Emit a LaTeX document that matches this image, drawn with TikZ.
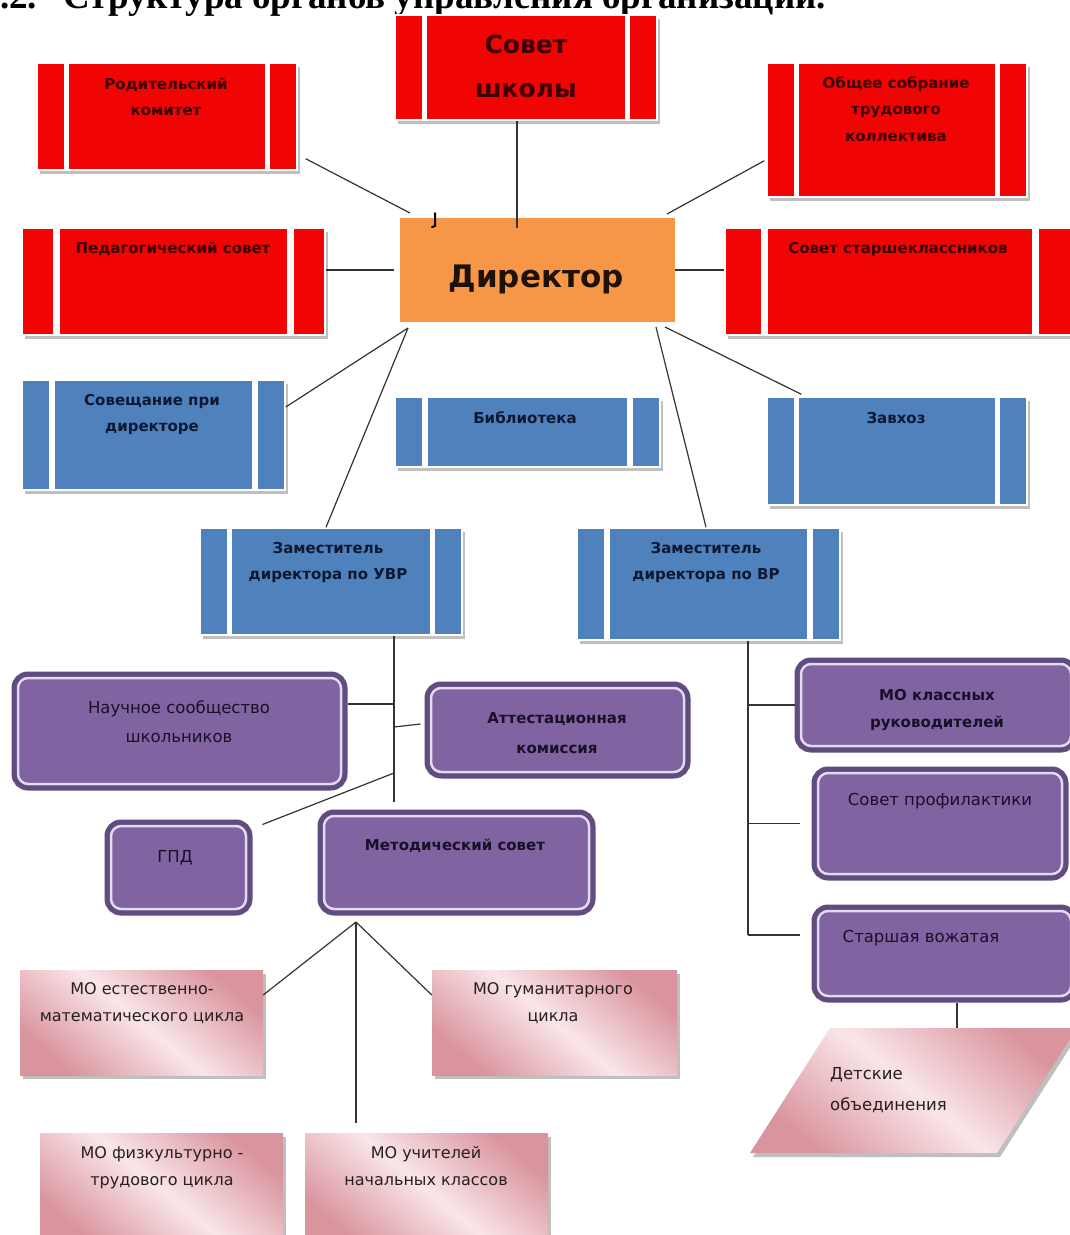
\documentclass[tikz,border=0pt]{standalone}
\usepackage{fontspec}
\setmainfont{DejaVu Sans}
\newfontfamily\tms{Liberation Serif}
\usetikzlibrary{calc,shadows}
\definecolor{redF}{RGB}{240,4,4}
\definecolor{redT}{RGB}{60,0,0}
\definecolor{orF}{RGB}{247,150,70}
\definecolor{orT}{RGB}{30,18,8}
\definecolor{blueF}{RGB}{79,129,189}
\definecolor{blueT}{RGB}{14,24,50}
\definecolor{purF}{RGB}{128,100,162}
\definecolor{purD}{RGB}{96,76,126}
\definecolor{purL}{RGB}{228,218,242}
\definecolor{purT}{RGB}{25,15,40}
\definecolor{pinkD}{RGB}{218,148,158}
\definecolor{pinkL}{RGB}{249,230,233}
\definecolor{pinkT}{RGB}{40,30,30}
\tikzset{
  wh/.style 2 args={minimum width=#1pt, minimum height=#2pt},
  conn/.style={draw=black!80, line width=1.2pt},
  shad/.style={drop shadow={shadow xshift=3pt, shadow yshift=-4pt, fill=black!25, opacity=1}},
  stripes/.style={path picture={
    \fill[white] ($(path picture bounding box.south west)!0.103!(path picture bounding box.south east)$) rectangle ($(path picture bounding box.north west)!0.124!(path picture bounding box.north east)$);
    \fill[white] ($(path picture bounding box.south west)!0.876!(path picture bounding box.south east)$) rectangle ($(path picture bounding box.north west)!0.897!(path picture bounding box.north east)$);
  }},
  redbox/.style={rectangle, fill=redF, draw=white, line width=1.5pt, shad, stripes, inner sep=0},
  bluebox/.style={rectangle, fill=blueF, draw=white, line width=1.5pt, shad, stripes, inner sep=0},
  orbox/.style={rectangle, fill=orF, inner sep=0},
  purbox/.style={rectangle, rounded corners=14pt, fill=purF, draw=purD, line width=5pt, inner sep=0,
    path picture={\draw[purL, line width=2.5pt, rounded corners=10pt]
      ([shift={(4pt,4pt)}]path picture bounding box.south west) rectangle
      ([shift={(-4pt,-4pt)}]path picture bounding box.north east);}},
  pinkbox/.style={rectangle, top color=pinkD, bottom color=pinkD, middle color=pinkL, shading angle=-40, shad, inner sep=0},
  txt/.style={anchor=base, align=center, inner sep=0},
  redtxt/.style={txt, text=redT, font=\bfseries\fontsize{15}{26.5}\selectfont},
  bluetxt/.style={txt, text=blueT, font=\bfseries\fontsize{15}{26}\selectfont},
  purbtxt/.style={txt, text=purT, font=\bfseries\fontsize{15}{29}\selectfont},
  purtxt/.style={txt, text=purT, font=\fontsize{16.5}{29}\selectfont},
  pinktxt/.style={txt, text=pinkT, font=\fontsize{16}{27}\selectfont},
}
\begin{document}
\begin{tikzpicture}[x=1pt, y=-1pt]
\clip (0,0) rectangle (1070,1235);
\fill[white] (0,0) rectangle (1070,1235);

% title (cut off at the top)
\node[anchor=base west, inner sep=0, font=\tms\bfseries\fontsize{37}{40}\selectfont] (title) at (0,8) {.2.\hspace{26pt}Структура органов управления организации.};

% red boxes
\node[redbox, wh={262}{105}] (soviet) at (526,67.5) {};
\node[redbox, wh={260}{107}] (roditel) at (167,116.5) {};
\node[redbox, wh={260}{134}] (obshchee) at (897,130) {};
\node[redbox, wh={303}{107}] (pedsovet) at (173.5,281.5) {};
\node[redbox, wh={350}{107}] (starsh) at (900,281.5) {};
% director
\node[orbox, wh={275}{104}] (director) at (537.5,270) {};
% blue boxes
\node[bluebox, wh={263}{110}] (soveshch) at (153.5,435) {};
\node[bluebox, wh={265}{70}] (biblio) at (527.5,432) {};
\node[bluebox, wh={260}{108}] (zavkhoz) at (897,451) {};
\node[bluebox, wh={262}{107}] (zamuvr) at (331,581.5) {};
\node[bluebox, wh={263}{112}] (zamvr) at (708.5,584) {};
% purple boxes
\node[purbox, wh={331}{114}] (nauch) at (179.5,731) {};
\node[purbox, wh={261}{92}] (attest) at (557.5,730) {};
\node[purbox, wh={278}{90}] (moklass) at (936,705) {};
\node[purbox, wh={143}{91}] (gpd) at (178.5,867.5) {};
\node[purbox, wh={273}{101}] (metod) at (456.5,862.5) {};
\node[purbox, wh={252}{109}] (profil) at (940,823.5) {};
\node[purbox, wh={261}{93}] (vozh) at (944.5,953.5) {};
% pink boxes
\node[pinkbox, wh={243}{105}] (estmat) at (141.5,1022.5) {};
\node[pinkbox, wh={245}{105}] (guman) at (554.5,1022.5) {};
\node[pinkbox, wh={243}{112}] (fizk) at (161.5,1189) {};
\node[pinkbox, wh={243}{112}] (nachal) at (426.5,1189) {};
% parallelogram
\coordinate (p1) at (830,1028);
\coordinate (p2) at (1077,1028);
\coordinate (p3) at (997,1153);
\coordinate (p4) at (750,1153);
\shade[top color=pinkD, bottom color=pinkD, middle color=pinkL, shading angle=-40, shad] (p1) -- (p2) -- (p3) -- (p4) -- cycle;

% texts (anchor = baseline of the last line)
\node[txt, text=redT, font=\bfseries\fontsize{25}{44}\selectfont] (soviet-t) at (526,97) {Совет\\школы};
\node[txt, text=orT, font=\bfseries\fontsize{31}{34}\selectfont] (director-t) at (536,287) {Директор};
\node[redtxt] (roditel-t) at (166,115.5) {Родительский\\комитет};
\node[redtxt] (obshchee-t) at (896,141) {Общее собрание\\трудового\\коллектива};
\node[redtxt] (pedsovet-t) at (173,253) {Педагогический совет};
\node[redtxt] (starsh-t) at (898,253) {Совет старшеклассников};
\node[bluetxt] (soveshch-t) at (152,431) {Совещание при\\директоре};
\node[bluetxt] (biblio-t) at (525,423) {Библиотека};
\node[bluetxt] (zavkhoz-t) at (896,423) {Завхоз};
\node[bluetxt] (zamuvr-t) at (328,579) {Заместитель\\директора по УВР};
\node[bluetxt] (zamvr-t) at (706,579) {Заместитель\\директора по ВР};
\node[purtxt] (nauch-t) at (179,742) {Научное сообщество\\школьников};
\node[purbtxt, font=\bfseries\fontsize{15}{30}\selectfont] (attest-t) at (557,753) {Аттестационная\\комиссия};
\node[purbtxt, font=\bfseries\fontsize{15}{27}\selectfont] (moklass-t) at (937,727) {МО классных\\руководителей};
\node[purtxt] (gpd-t) at (175,862) {ГПД};
\node[purbtxt] (metod-t) at (455,850) {Методический совет};
\node[purtxt] (profil-t) at (940,805) {Совет профилактики};
\node[purtxt] (vozh-t) at (921,942) {Старшая вожатая};
\node[pinktxt] (estmat-t) at (142,1021) {МО естественно-\\математического цикла};
\node[pinktxt] (guman-t) at (553,1021) {МО гуманитарного\\цикла};
\node[pinktxt] (fizk-t) at (162,1185) {МО физкультурно -\\трудового цикла};
\node[pinktxt] (nachal-t) at (426,1185) {МО учителей\\начальных классов};
\node[pinktxt, anchor=base west, align=left, font=\fontsize{16.5}{31}\selectfont] (detskie-t) at (830,1110) {Детские\\объединения};

% junction coordinates
\coordinate (d-top) at (517,228);
\coordinate (d-nw) at (410,213);
\coordinate (d-ne) at (667,214);
\coordinate (d-sw) at (408,328);
\coordinate (d-se1) at (656,327);
\coordinate (d-se2) at (665,327);
\coordinate (u0) at (394,636);
\coordinate (u1) at (394,802);
\coordinate (un) at (394,704);
\coordinate (ua) at (394,727);
\coordinate (ug) at (394,773);
\coordinate (m0) at (356,922);
\coordinate (m1) at (356,1123);
\coordinate (v0) at (748,641);
\coordinate (v1) at (748,935);
\coordinate (vz) at (800,935);
\coordinate (dtop) at (957,1028);

% connectors
\draw[conn] ([xshift=-9pt]soviet.south) -- (d-top);
\draw[conn] ([xshift=8pt,yshift=12pt]roditel.south east) -- (d-nw);
\draw[conn] ([xshift=-2pt,yshift=37pt]obshchee.south west) -- (d-ne);
\draw[conn] (pedsovet.east |- director.west) -- ([xshift=-6pt]director.west);
\draw[conn] (director.east) -- (starsh.west |- director.east);
\draw[conn] ([yshift=28pt]soveshch.east) -- (d-sw);
\draw[conn] (d-sw) -- ([xshift=-5pt]zamuvr.north);
\draw[conn] (d-se1) -- ([xshift=-2.5pt]zamvr.north);
\draw[conn] (d-se2) -- ([xshift=35pt,yshift=2pt]zavkhoz.north west);
\draw[line width=2pt, line cap=round] (435,213) -- (435,226) -- (432,227);

\draw[conn] (u0) -- (u1);
\draw[conn] (nauch.east |- un) -- (un);
\draw[conn] (ua) -- ([xshift=-4pt,yshift=6pt]attest.west);
\draw[conn] (ug) -- ([xshift=10pt,yshift=-5pt]gpd.north east);
\draw[conn] (m0) -- ([yshift=27.5pt]estmat.east);
\draw[conn] (m0) -- ([yshift=27.5pt]guman.west);
\draw[conn] (m0) -- (m1);

\draw[conn] (v0) -- (v1);
\draw[conn] (moklass.west -| v0) -- (moklass.west);
\draw[conn] (profil.west -| v0) -- ([xshift=-12pt]profil.west);
\draw[conn] (v1) -- (vz);
\draw[conn] ([xshift=12.5pt]vozh.south) -- (dtop);
\end{tikzpicture}
\end{document}
